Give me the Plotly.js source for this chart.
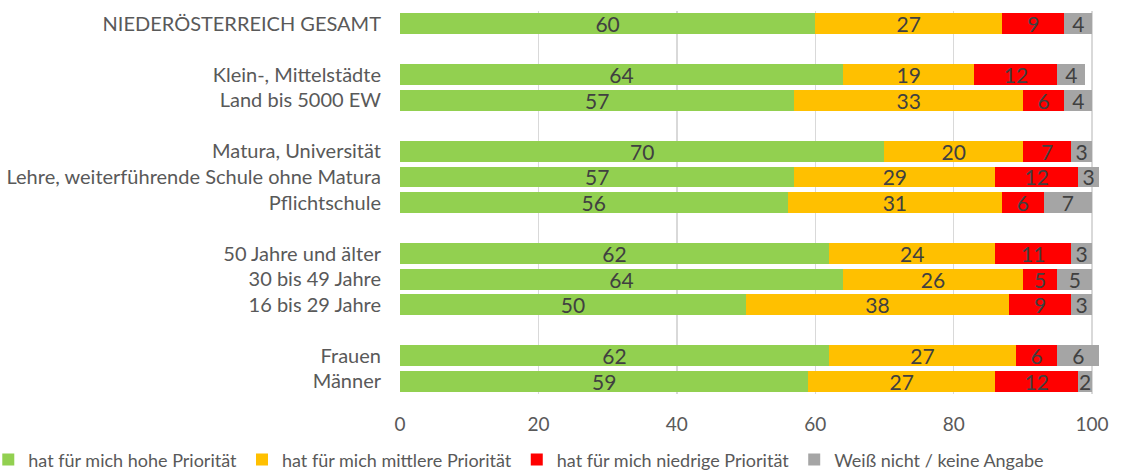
<!DOCTYPE html>
<html>
<head>
<meta charset="utf-8">
<script src="https://cdn.plot.ly/plotly-3.0.1.min.js"></script>
<style>html,body{margin:0;padding:0;background:#fff;}#chart{width:1135px;height:471px;}</style>
</head>
<body>
<div id="chart"></div>
<script>
const categories = [
  "NIEDERÖSTERREICH GESAMT", " ",
  "Klein-, Mittelstädte", "Land bis 5000 EW", "  ",
  "Matura, Universität", "Lehre, weiterführende Schule ohne Matura", "Pflichtschule", "   ",
  "50 Jahre und älter", "30 bis 49 Jahre", "16 bis 29 Jahre", "    ",
  "Frauen", "Männer"
];
const hoch    = [60, null, 64, 57, null, 70, 57, 56, null, 62, 64, 50, null, 62, 59];
const mittel  = [27, null, 19, 33, null, 20, 29, 31, null, 24, 26, 38, null, 27, 27];
const niedrig = [9,  null, 12, 6,  null, 7,  12, 6,  null, 11, 5,  9,  null, 6,  12];
const weiss   = [4,  null, 4,  4,  null, 3,  3,  7,  null, 3,  5,  3,  null, 6,  2];
const seriesNames = [
  "hat für mich hohe Priorität",
  "hat für mich mittlere Priorität",
  "hat für mich niedrige Priorität",
  "Weiß nicht / keine Angabe"
];
const colors = ["#92D050", "#FFC000", "#FF0000", "#A5A5A5"];
const tickValues = [0, 20, 40, 60, 80, 100];

const font = "Lato, 'Open Sans', sans-serif";
const traces = [hoch, mittel, niedrig, weiss].map((vals, i) => ({
  type: "bar",
  orientation: "h",
  name: seriesNames[i],
  y: categories,
  x: vals,
  marker: {color: colors[i], line: {width: 0}},
  text: vals.map(v => v === null ? "" : String(v)),
  texttemplate: "%{text}",
  textposition: "inside",
  insidetextanchor: "middle",
  constraintext: "none",
  textangle: 0,
  textfont: {family: font, size: 21, color: "#404040"},
  hoverinfo: "x+name"
}));

const layout = {
  width: 1135, height: 471,
  margin: {l: 400, r: 36, t: 11, b: 77, autoexpand: false},
  barmode: "stack",
  bargap: 0.18,
  paper_bgcolor: "#fff",
  plot_bgcolor: "#fff",
  font: {family: font, color: "#595959"},
  xaxis: {
    range: [0, 101],
    tickvals: tickValues,
    ticktext: tickValues.map(String),
    showgrid: true,
    gridcolor: "#D9D9D9",
    gridwidth: 1.5,
    zeroline: false,
    showline: false,
    ticks: "",
    ticklabelstandoff: 17,
    tickfont: {family: font, size: 19, color: "#595959"},
    fixedrange: true
  },
  yaxis: {
    type: "category",
    categoryorder: "array",
    categoryarray: categories,
    autorange: "reversed",
    showgrid: false,
    zeroline: false,
    ticks: "",
    ticklabelstandoff: 18,
    tickfont: {family: font, size: 20, color: "#595959"},
    fixedrange: true
  },
  showlegend: true,
  legend: {
    orientation: "h",
    xref: "paper", yref: "paper",
    x: -0.589, y: -0.172,
    xanchor: "left", yanchor: "middle",
    font: {family: font, size: 18, color: "#595959"},
    itemwidth: 30,
    traceorder: "normal"
  }
};

Plotly.newPlot("chart", traces, layout, {displayModeBar: false, staticPlot: true});
</script>
</body>
</html>
